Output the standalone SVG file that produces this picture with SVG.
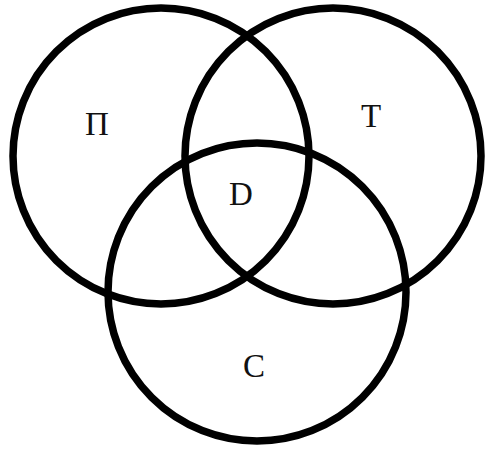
<svg xmlns="http://www.w3.org/2000/svg" width="490" height="450" viewBox="0 0 490 450">
<style>
.c{fill:none;stroke:#000;stroke-width:7.5}
.t{font-family:"Liberation Serif","Times New Roman",serif;font-size:33px;fill:#111;text-anchor:middle}
</style>
<rect width="490" height="450" fill="#fff"/>
<g id="connectors"></g>
<g id="circle-P"><circle class="c" cx="161" cy="156" r="148"/></g>
<g id="circle-T"><circle class="c" cx="333" cy="156" r="148"/></g>
<g id="circle-C"><circle class="c" cx="257" cy="292" r="149"/></g>
<g id="label-P"><text class="t" x="97" y="135">П</text></g>
<g id="label-T"><text class="t" x="371" y="127">T</text></g>
<g id="label-D"><text class="t" x="241" y="205">D</text></g>
<g id="label-C"><text class="t" x="254" y="377">C</text></g>
</svg>
